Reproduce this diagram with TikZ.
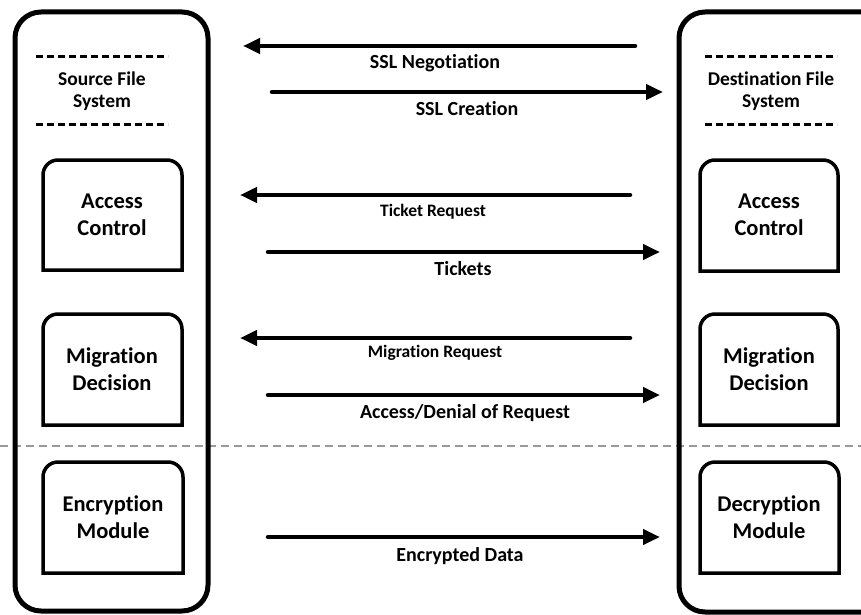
\documentclass[tikz,border=0pt]{standalone}
\usepackage{fontspec}
\setmainfont{Carlito}[Ligatures=NoCommon]
\usetikzlibrary{arrows.meta}
\begin{document}
\begin{tikzpicture}[x=1pt,y=-1pt,
  outerbox/.style={draw=black,line width=5pt,rounded corners=26pt},
  modbox/.style={draw=black,line width=3.5pt},
  sep/.style={line width=3pt,dash pattern=on 7pt off 4pt},
  title/.style={font=\bfseries\fontsize{19.5}{22}\selectfont,align=center,inner sep=0pt},
  modtext/.style={font=\bfseries\fontsize{22.5}{27}\selectfont,align=center,inner sep=0pt},
  msg/.style={line width=4.5pt,line cap=round,-{Triangle[length=17pt,width=15pt]}},
  lbl/.style={font=\bfseries\fontsize{20}{24}\selectfont,inner sep=0pt},
  smalllbl/.style={font=\bfseries\fontsize{17.5}{21}\selectfont,inner sep=0pt}]
\useasboundingbox (0,0) rectangle (861,615);
\clip (0,0) rectangle (861,615);

% gray separator, behind the containers
\draw[gray!80,line width=1.2pt,dash pattern=on 8pt off 5pt] (0,446) -- (861,446);

% outer containers
\draw[outerbox] (15,12) rectangle (208,611);
\draw[outerbox] (679,12) rectangle (890,612);

% file system titles with dotted rules
\draw[sep] (36,57) -- (168,57);
\draw[sep] (36,124) -- (168,124);
\node[title] (src) at (102,91) {Source File\\System};
\draw[sep] (705,57) -- (837,57);
\draw[sep] (705,124) -- (837,124);
\node[title] (dst) at (771,91) {Destination File\\System};

% module boxes (rounded top corners only)
\newcommand{\modulebox}[4]{%
  \draw[modbox] (#1,#4) [rounded corners=15pt] -- (#1,#2) -- (#3,#2)
    [sharp corners] -- (#3,#4) -- cycle;}
\modulebox{43}{160}{182}{270}
\modulebox{43}{314}{182}{425}
\modulebox{43}{462}{183}{573}
\modulebox{700}{160}{838}{271}
\modulebox{700}{314}{838}{425}
\modulebox{700}{462}{839}{573}

\node[modtext] (acL) at (112,215) {Access\\Control};
\node[modtext] (mdL) at (112,369) {Migration\\Decision};
\node[modtext] (enc) at (113,517) {Encryption\\Module};
\node[modtext] (acR) at (769,215) {Access\\Control};
\node[modtext] (mdR) at (769,369) {Migration\\Decision};
\node[modtext] (dec) at (769,517) {Decryption\\Module};

% message endpoints
\coordinate (n1) at (635,46);  \coordinate (n2) at (243,46);
\coordinate (c1) at (272,92);  \coordinate (c2) at (663,92);
\coordinate (t1) at (630,195); \coordinate (t2) at (240,195);
\coordinate (k1) at (268,252); \coordinate (k2) at (660,252);
\coordinate (m1) at (630,338); \coordinate (m2) at (240,338);
\coordinate (a1) at (268,395); \coordinate (a2) at (660,395);
\coordinate (e1) at (268,537); \coordinate (e2) at (660,537);

\draw[msg] (n1) -- (n2);
\draw[msg] (c1) -- (c2);
\draw[msg] (t1) -- (t2);
\draw[msg] (k1) -- (k2);
\draw[msg] (m1) -- (m2);
\draw[msg] (a1) -- (a2);
\draw[msg] (e1) -- (e2);

\node[lbl] (ln) at (435,63) {SSL Negotiation};
\node[lbl] (lc) at (467,109) {SSL Creation};
\node[smalllbl] (lt) at (433,212) {Ticket Request};
\node[lbl] (lk) at (463,269) {Tickets};
\node[smalllbl] (lm) at (435,353) {Migration Request};
\node[lbl] (la) at (465,413) {Access/Denial of Request};
\node[lbl] (le) at (460,556) {Encrypted Data};
\end{tikzpicture}
\end{document}
